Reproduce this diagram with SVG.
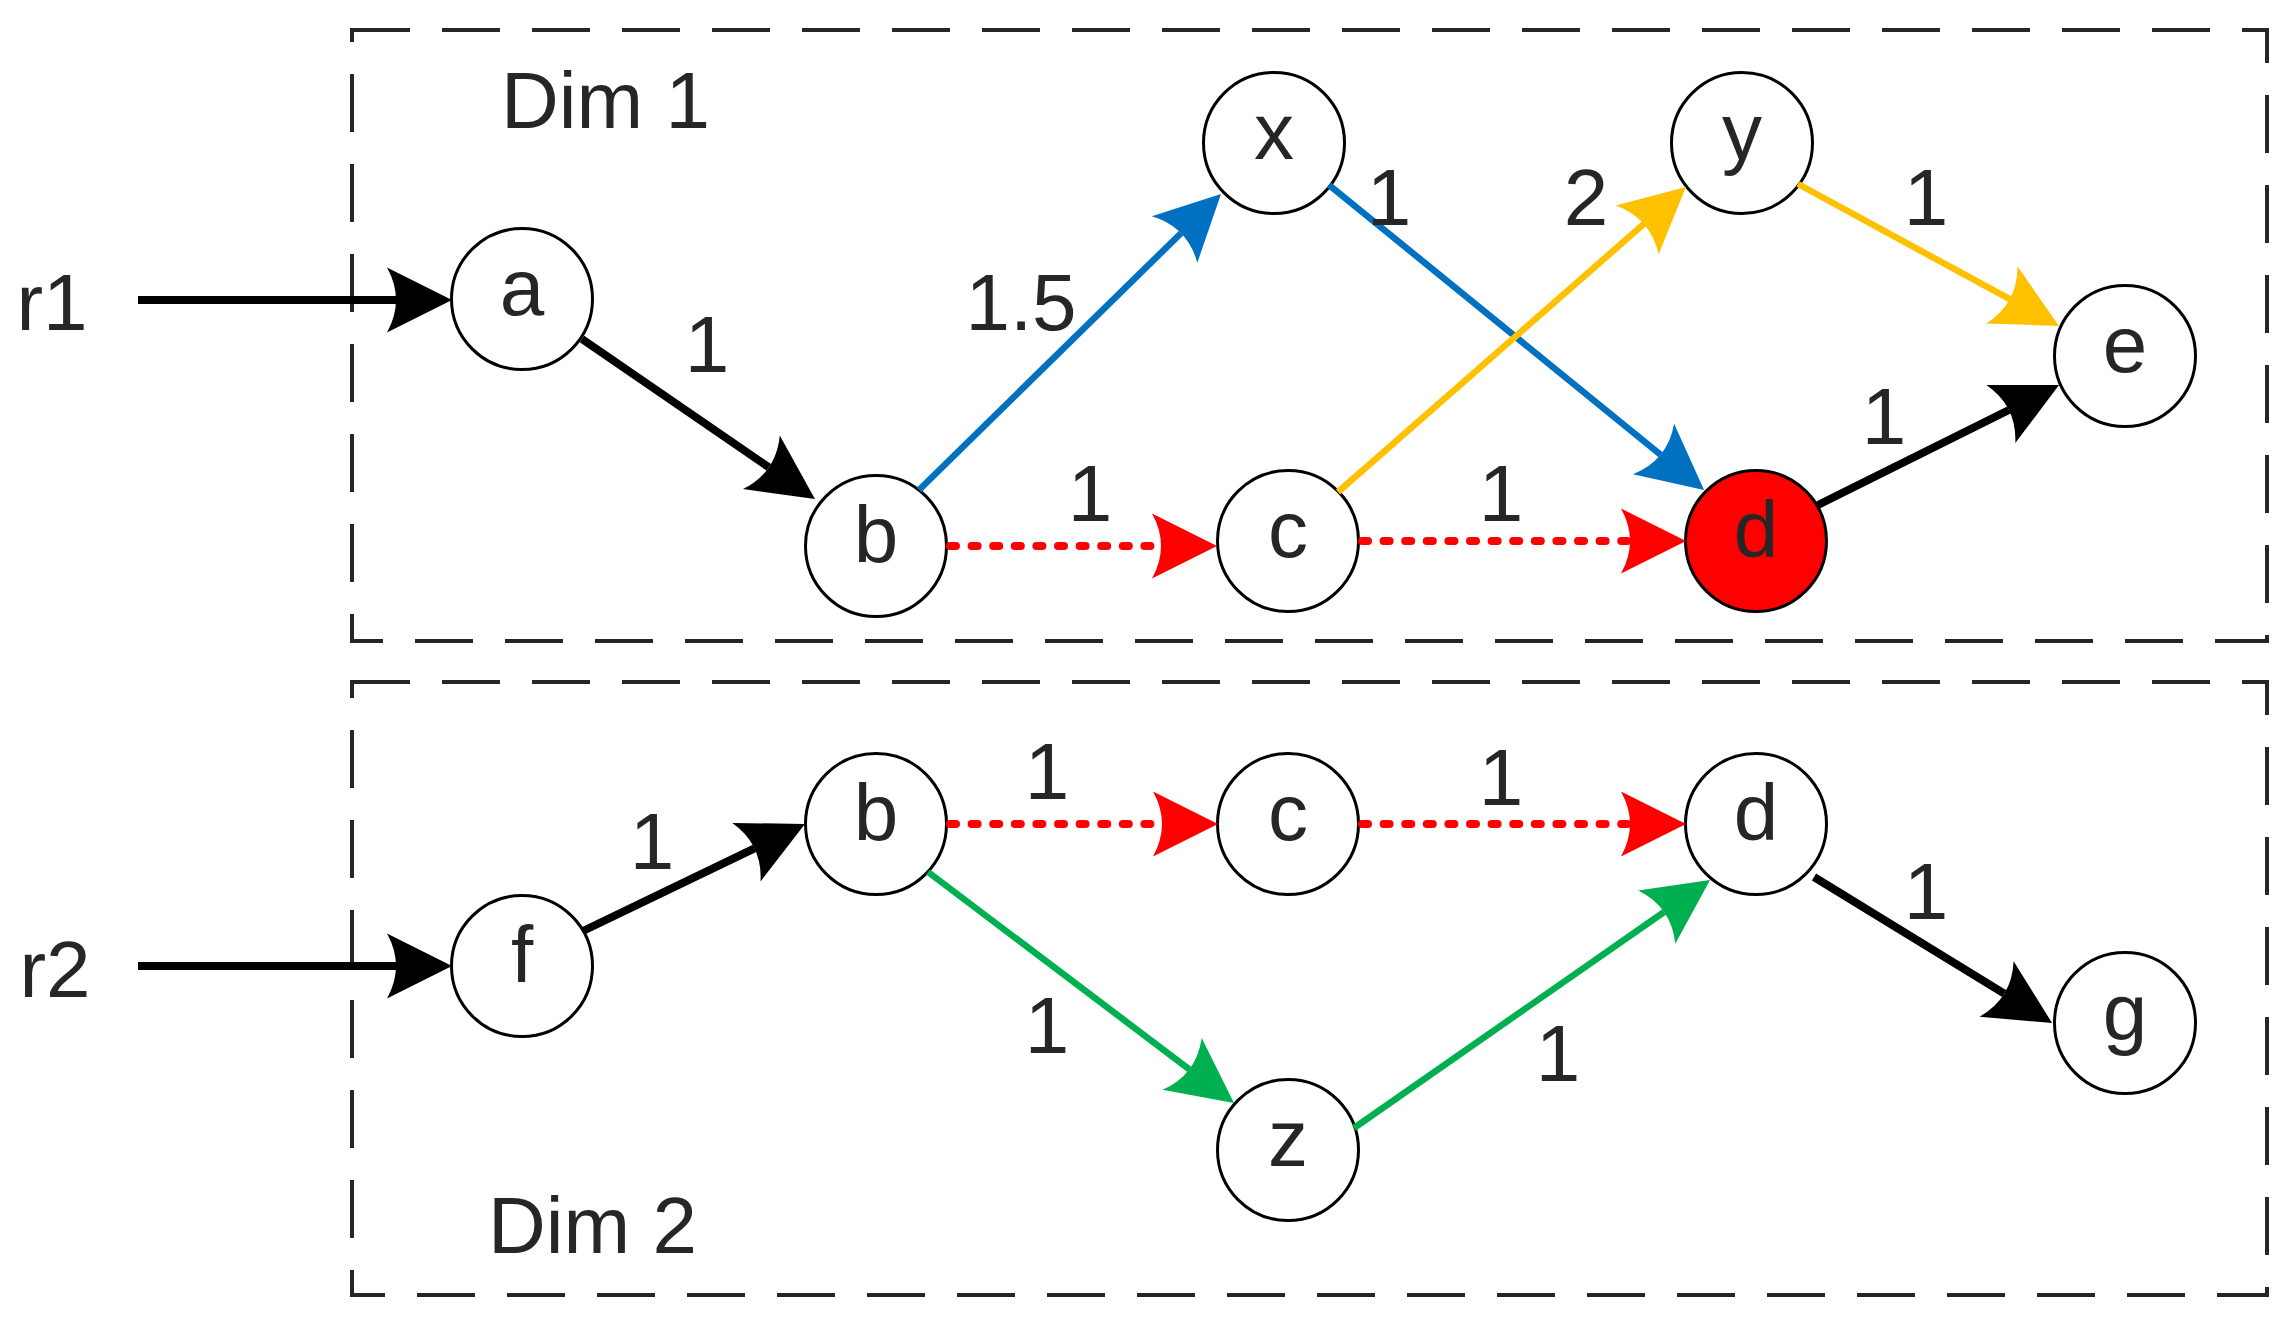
<svg xmlns="http://www.w3.org/2000/svg" width="2296" height="1319" viewBox="0 0 2296 1319">
<style>
.box{fill:none;stroke:#262626;stroke-width:4;stroke-dasharray:58 32}
.node circle{fill:#fff;stroke:#000;stroke-width:3}
.node text,.lbl{font-family:"Liberation Sans",Arial,sans-serif;font-size:80px;fill:#262626;text-anchor:middle}
.title{font-family:"Liberation Sans",Arial,sans-serif;font-size:80px;fill:#262626}
.k{fill:none;stroke:#000;stroke-width:8;marker-end:url(#mk)}
.bl{fill:none;stroke:#0070C0;stroke-width:6.5;marker-end:url(#mb)}
.yl{fill:none;stroke:#FFC000;stroke-width:6.5;marker-end:url(#my)}
.gr{fill:none;stroke:#00B050;stroke-width:6.5;marker-end:url(#mg)}
.rd{fill:none;stroke:#FF0000;stroke-width:8;stroke-linecap:round;stroke-dasharray:6 15.6;marker-end:url(#mr)}
</style>
<defs>
<path id="ah" d="M56,0 L-9,-32.5 Q9,0 -9,32.5 Z"/>
<marker id="mk" markerUnits="userSpaceOnUse" orient="auto" refX="0" refY="0" markerWidth="80" markerHeight="80" overflow="visible"><use href="#ah" fill="#000"/></marker>
<marker id="mb" markerUnits="userSpaceOnUse" orient="auto" refX="0" refY="0" markerWidth="80" markerHeight="80" overflow="visible"><use href="#ah" fill="#0070C0"/></marker>
<marker id="my" markerUnits="userSpaceOnUse" orient="auto" refX="0" refY="0" markerWidth="80" markerHeight="80" overflow="visible"><use href="#ah" fill="#FFC000"/></marker>
<marker id="mg" markerUnits="userSpaceOnUse" orient="auto" refX="0" refY="0" markerWidth="80" markerHeight="80" overflow="visible"><use href="#ah" fill="#00B050"/></marker>
<marker id="mr" markerUnits="userSpaceOnUse" orient="auto" refX="0" refY="0" markerWidth="80" markerHeight="80" overflow="visible"><use href="#ah" fill="#FF0000"/></marker>
</defs>
<rect width="2296" height="1319" fill="#fff"/>
<g id="dim1">
<rect class="box" x="352" y="30" width="1915" height="611"/>
<text class="title" x="501" y="128">Dim 1</text>
</g>
<g id="dim2">
<rect class="box" x="352" y="682" width="1915" height="613"/>
<text class="title" x="488" y="1253">Dim 2</text>
</g>
<g id="r1"><text class="lbl" x="52" y="330">r1</text></g>
<g id="r2"><text class="lbl" x="55" y="997">r2</text></g>
<g id="nodes">
<g id="n-a" class="node"><circle cx="522" cy="299" r="70.5"/><text x="522" y="315">a</text></g>
<g id="n-b1" class="node"><circle cx="876" cy="546" r="70.5"/><text x="876" y="562">b</text></g>
<g id="n-x" class="node"><circle cx="1274" cy="143" r="70.5"/><text x="1274" y="159">x</text></g>
<g id="n-y" class="node"><circle cx="1742" cy="143" r="70.5"/><text x="1742" y="159">y</text></g>
<g id="n-c1" class="node"><circle cx="1288" cy="541" r="70.5"/><text x="1288" y="557">c</text></g>
<g id="n-d1" class="node"><circle cx="1756" cy="541" r="70.5" style="fill:#FF0000"/><text x="1756" y="557">d</text></g>
<g id="n-e" class="node"><circle cx="2125" cy="356" r="70.5"/><text x="2125" y="372">e</text></g>
<g id="n-f" class="node"><circle cx="522" cy="966" r="70.5"/><text x="522" y="982">f</text></g>
<g id="n-b2" class="node"><circle cx="876" cy="824" r="70.5"/><text x="876" y="840">b</text></g>
<g id="n-c2" class="node"><circle cx="1288" cy="824" r="70.5"/><text x="1288" y="840">c</text></g>
<g id="n-d2" class="node"><circle cx="1756" cy="824" r="70.5"/><text x="1756" y="840">d</text></g>
<g id="n-z" class="node"><circle cx="1288" cy="1150" r="70.5"/><text x="1288" y="1166">z</text></g>
<g id="n-g" class="node"><circle cx="2125" cy="1023" r="70.5"/><text x="2125" y="1039">g</text></g>
</g>
<g id="connectors">
<path class="k" d="M138,300 L396,300"/>
<path class="k" d="M582,339 L768.8,467.3"/>
<path class="bl" d="M919,490 L1181,233.2"/>
<path class="rd" d="M950,546 L1161,546"/>
<path class="bl" d="M1329,185 L1660.6,454.7"/>
<path class="yl" d="M1338,492 L1643.9,223.9"/>
<path class="yl" d="M1798,184 L2009.8,299.2"/>
<path class="rd" d="M1362,541 L1630,541"/>
<path class="k" d="M1818,505 L2008.9,410"/>
<path class="k" d="M138,966 L396,966"/>
<path class="k" d="M583,931 L754.5,848.3"/>
<path class="rd" d="M950,824 L1162,824"/>
<path class="rd" d="M1362,824 L1630,824"/>
<path class="gr" d="M928,872 L1189.3,1069.3"/>
<path class="gr" d="M1354,1128 L1664.1,912"/>
<path class="k" d="M1814,877 L2004.3,993.7"/>
</g>
<g id="labels">
<text class="lbl" x="707" y="372">1</text>
<text class="lbl" x="1021" y="330">1.5</text>
<text class="lbl" x="1090" y="521">1</text>
<text class="lbl" x="1389" y="225">1</text>
<text class="lbl" x="1586" y="225">2</text>
<text class="lbl" x="1926" y="225">1</text>
<text class="lbl" x="1884" y="444">1</text>
<text class="lbl" x="1501" y="521">1</text>
<text class="lbl" x="652" y="869">1</text>
<text class="lbl" x="1047" y="799">1</text>
<text class="lbl" x="1047" y="1053">1</text>
<text class="lbl" x="1501" y="805">1</text>
<text class="lbl" x="1558" y="1081">1</text>
<text class="lbl" x="1926" y="919">1</text>
</g>
</svg>
